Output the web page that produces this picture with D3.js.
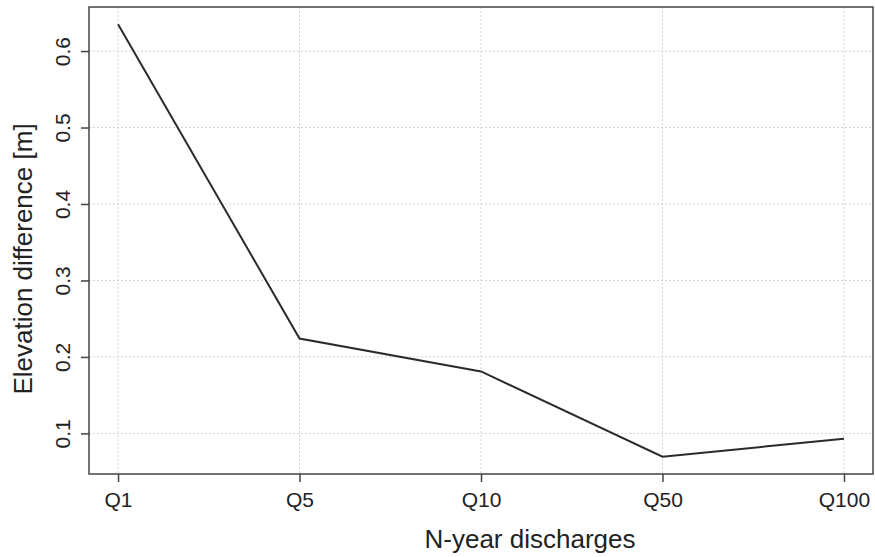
<!DOCTYPE html>
<html><head><meta charset="utf-8">
<script src="https://cdn.jsdelivr.net/npm/d3@7"></script>
<style>body{margin:0;background:#fff}text{font-family:"Liberation Sans",Arial,sans-serif}</style>
</head><body><svg id="c" width="875" height="557"></svg>
<script>
const categories = ["Q1","Q5","Q10","Q50","Q100"];
const values = [0.635, 0.224, 0.181, 0.0695, 0.093];
const yTicks = [0.1, 0.2, 0.3, 0.4, 0.5, 0.6];

const svg = d3.select("#c");
const L = 89, R = 873, T = 7, B = 474;
const x = d3.scaleLinear().domain([0.84, 5.16]).range([L, R]);
const y = d3.scaleLinear().domain([0.0469, 0.6576]).range([B, T]);
const idx = categories.map((c,i)=>i+1);

// grid
svg.append("g").selectAll("line").data(idx).join("line")
  .attr("x1", d=>x(d)).attr("x2", d=>x(d)).attr("y1", T).attr("y2", B)
  .attr("stroke", "#d4d4d4").attr("stroke-width", 1).attr("stroke-dasharray", "2,2");
svg.append("g").selectAll("line").data(yTicks).join("line")
  .attr("x1", L).attr("x2", R).attr("y1", d=>y(d)).attr("y2", d=>y(d))
  .attr("stroke", "#d4d4d4").attr("stroke-width", 1).attr("stroke-dasharray", "2,2");

// line
svg.append("path").datum(values)
  .attr("d", d3.line().x((d,i)=>x(i+1)).y(d=>y(d)))
  .attr("fill","none").attr("stroke","#2b2b2b").attr("stroke-width",2);

// axes
const xa = svg.append("g").attr("transform",`translate(0,${B})`)
  .call(d3.axisBottom(x).tickValues(idx).tickFormat((d,i)=>categories[i]).tickSize(8).tickSizeOuter(0).tickPadding(0));
xa.select(".domain").remove();
xa.selectAll("line").attr("stroke","#444").attr("stroke-width",1.5);
xa.selectAll("text").attr("font-size",21).attr("fill","#222").attr("dy",0).attr("y",33);

const ya = svg.append("g").attr("transform",`translate(${L},0)`)
  .call(d3.axisLeft(y).tickValues(yTicks).tickFormat(d3.format(".1f")).tickSize(8).tickSizeOuter(0));
ya.select(".domain").remove();
ya.selectAll("line").attr("stroke","#444").attr("stroke-width",1.5);
ya.selectAll("text").attr("font-size",21).attr("fill","#222")
  .attr("x",0).attr("dy",0).attr("text-anchor","middle")
  .attr("transform","translate(-19,0) rotate(-90)");

// box
svg.append("rect").attr("x",L).attr("y",T).attr("width",R-L).attr("height",B-T)
  .attr("fill","none").attr("stroke","#444").attr("stroke-width",1.5);

svg.append("text").attr("x",530).attr("y",548).attr("text-anchor","middle")
  .attr("font-size",26).attr("fill","#222").text("N-year discharges");
svg.append("text").attr("transform",`translate(32,259) rotate(-90)`).attr("text-anchor","middle")
  .attr("font-size",26).attr("fill","#222").text("Elevation difference [m]");
</script></body></html>
